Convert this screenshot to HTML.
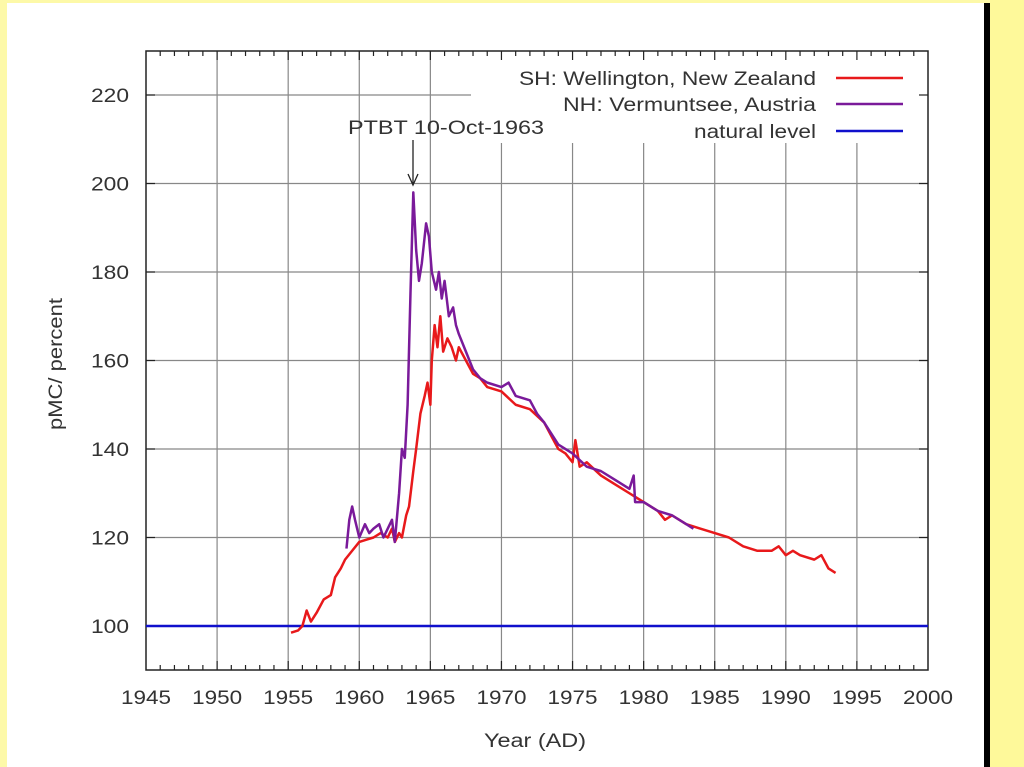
<!DOCTYPE html>
<html><head><meta charset="utf-8"><style>
body{margin:0;width:1024px;height:767px;overflow:hidden;background:#fff;font-family:"Liberation Sans",sans-serif}
</style></head><body>
<svg width="1024" height="767" style="position:absolute;left:0;top:0">
<rect x="0" y="0" width="1024" height="767" fill="#fff"/>
<rect x="0" y="0" width="1024" height="3" fill="#fdf9a8"/>
<rect x="0" y="0" width="7" height="767" fill="#fdf9a8"/>
<rect x="984" y="3" width="6" height="764" fill="#000"/>
<rect x="990" y="0" width="34" height="767" fill="#fef99a"/>
<g id="grid"></g>
<rect x="471" y="53" width="456" height="90" fill="#fff"/>
<g id="ticks"></g>
<rect x="146" y="51" width="782" height="619" fill="none" stroke="#222" stroke-width="1.5"/>
<g id="series"></g>
<g id="labels" font-size="19" fill="#333"></g>
<text x="535" y="747" font-size="19" text-anchor="middle" fill="#333" textLength="102" lengthAdjust="spacingAndGlyphs">Year (AD)</text>
<text transform="translate(62,364) rotate(-90)" font-size="19" text-anchor="middle" fill="#333" textLength="132" lengthAdjust="spacingAndGlyphs">pMC/ percent</text>
<text x="446" y="134" font-size="19" text-anchor="middle" fill="#333" textLength="196" lengthAdjust="spacingAndGlyphs">PTBT 10-Oct-1963</text>
<line x1="413" y1="140" x2="413" y2="183" stroke="#222" stroke-width="1.3"/>
<path d="M408,174 L413,185 L418,174" fill="none" stroke="#222" stroke-width="1.3"/>
<g font-size="19" fill="#333" text-anchor="end">
<text x="816" y="85" textLength="297" lengthAdjust="spacingAndGlyphs">SH: Wellington, New Zealand</text>
<text x="816" y="111" textLength="253" lengthAdjust="spacingAndGlyphs">NH: Vermuntsee, Austria</text>
<text x="816" y="138" textLength="122" lengthAdjust="spacingAndGlyphs">natural level</text>
</g>
<line x1="836" y1="78" x2="903" y2="78" stroke="#e8191b" stroke-width="2.5"/>
<line x1="836" y1="104" x2="903" y2="104" stroke="#7a1a9a" stroke-width="2.5"/>
<line x1="836" y1="131" x2="903" y2="131" stroke="#1010cc" stroke-width="2.5"/>
</svg>
<script>
const xTicks=[1945,1950,1955,1960,1965,1970,1975,1980,1985,1990,1995,2000];
const yTicks=[100,120,140,160,180,200,220];
const naturalLevel=[100];
const shYears=[1955.2,1955.7,1956.0,1956.3,1956.6,1957,1957.5,1958,1958.3,1958.7,1959,1959.5,1960,1960.5,1961,1961.5,1962,1962.3,1962.5,1962.8,1963,1963.3,1963.5,1963.8,1964,1964.3,1964.6,1964.8,1965,1965.1,1965.3,1965.5,1965.7,1965.9,1966.2,1966.5,1966.8,1967,1967.5,1968,1968.5,1969,1970,1971,1972,1973,1973.5,1974,1974.5,1975,1975.2,1975.5,1976,1977,1978,1979,1980,1981,1981.5,1982,1983,1984,1985,1986,1987,1988,1989,1989.5,1990,1990.5,1991,1992,1992.5,1993,1993.5];
const shValues=[98.5,99,100,103.5,101,103,106,107,111,113,115,117,119,119.5,120,121,120,122,119,121,120,125,127,135,140,148,152,155,150,160,168,163,170,162,165,163,160,163,160,157,156,154,153,150,149,146,143,140,139,137,142,136,137,134,132,130,128,126,124,125,123,122,121,120,118,117,117,118,116,117,116,115,116,113,112];
const nhYears=[1959.1,1959.3,1959.5,1959.7,1960,1960.4,1960.7,1961,1961.4,1961.7,1962,1962.3,1962.5,1962.8,1963,1963.2,1963.4,1963.6,1963.8,1964,1964.2,1964.4,1964.7,1964.9,1965.1,1965.4,1965.6,1965.8,1966,1966.3,1966.6,1966.8,1967,1967.5,1968,1968.5,1969,1970,1970.5,1971,1972,1972.5,1973,1974,1975,1976,1977,1978,1979,1979.3,1979.4,1980,1981,1982,1983,1983.5];
const nhValues=[117.5,124,127,124,120,123,121,122,123,120,122,124,119,130,140,138,150,175,198,185,178,182,191,188,180,176,180,174,178,170,172,168,166,162,158,156,155,154,155,152,151,148,146,141,139,136,135,133,131,134,128,128,126,125,123,122];
const X=y=>146+(y-1945)*(782/55);
const Y=v=>626-(v-100)*4.425;
const NS="http://www.w3.org/2000/svg";
function mk(parent,tag,attrs){const e=document.createElementNS(NS,tag);for(const k in attrs)e.setAttribute(k,attrs[k]);document.getElementById(parent).appendChild(e);return e;}
xTicks.forEach(t=>{
  if(t>1945&&t<2000){const top=(t>=1970)?143:51;
    const g=mk('grid','line',{x1:X(t),x2:X(t),y1:top,y2:670,stroke:'#888','stroke-width':1.2});
    
    }
  const l=mk('labels','text',{x:X(t),y:704,'text-anchor':'middle',textLength:50,lengthAdjust:'spacingAndGlyphs'});l.textContent=t;
  
  
});
for(let yr=1946;yr<2000;yr++){
  const h=(yr%5===0)?9:5;
  mk('ticks','line',{x1:X(yr),x2:X(yr),y1:670,y2:670-h,stroke:'#222','stroke-width':1.2});
  mk('ticks','line',{x1:X(yr),x2:X(yr),y1:51,y2:51+h,stroke:'#222','stroke-width':1.2});
}
yTicks.forEach(t=>{
  const right=(t>=220)?471:928;
  const g=mk('grid','line',{x1:146,x2:right,y1:Y(t),y2:Y(t),stroke:'#888','stroke-width':1.2});
  
  
  mk('ticks','line',{x1:146,x2:155,y1:Y(t),y2:Y(t),stroke:'#222','stroke-width':1.2});
  mk('ticks','line',{x1:928,x2:919,y1:Y(t),y2:Y(t),stroke:'#222','stroke-width':1.2});
  const l=mk('labels','text',{x:129,y:Y(t)+7,'text-anchor':'end',textLength:38,lengthAdjust:'spacingAndGlyphs'});l.textContent=t;
  
  
});
const nat=mk('series','line',{x1:146,x2:928,y1:Y(naturalLevel[0]),y2:Y(naturalLevel[0]),stroke:'#1010cc','stroke-width':2.5});


const sh=mk('series','polyline',{points:shYears.map((y,i)=>X(y)+','+Y(shValues[i])).join(' '),fill:'none',stroke:'#e8191b','stroke-width':2.5,'stroke-linejoin':'round'});


const nh=mk('series','polyline',{points:nhYears.map((y,i)=>X(y)+','+Y(nhValues[i])).join(' '),fill:'none',stroke:'#7a1a9a','stroke-width':2.5,'stroke-linejoin':'round'});


</script>
</body></html>
